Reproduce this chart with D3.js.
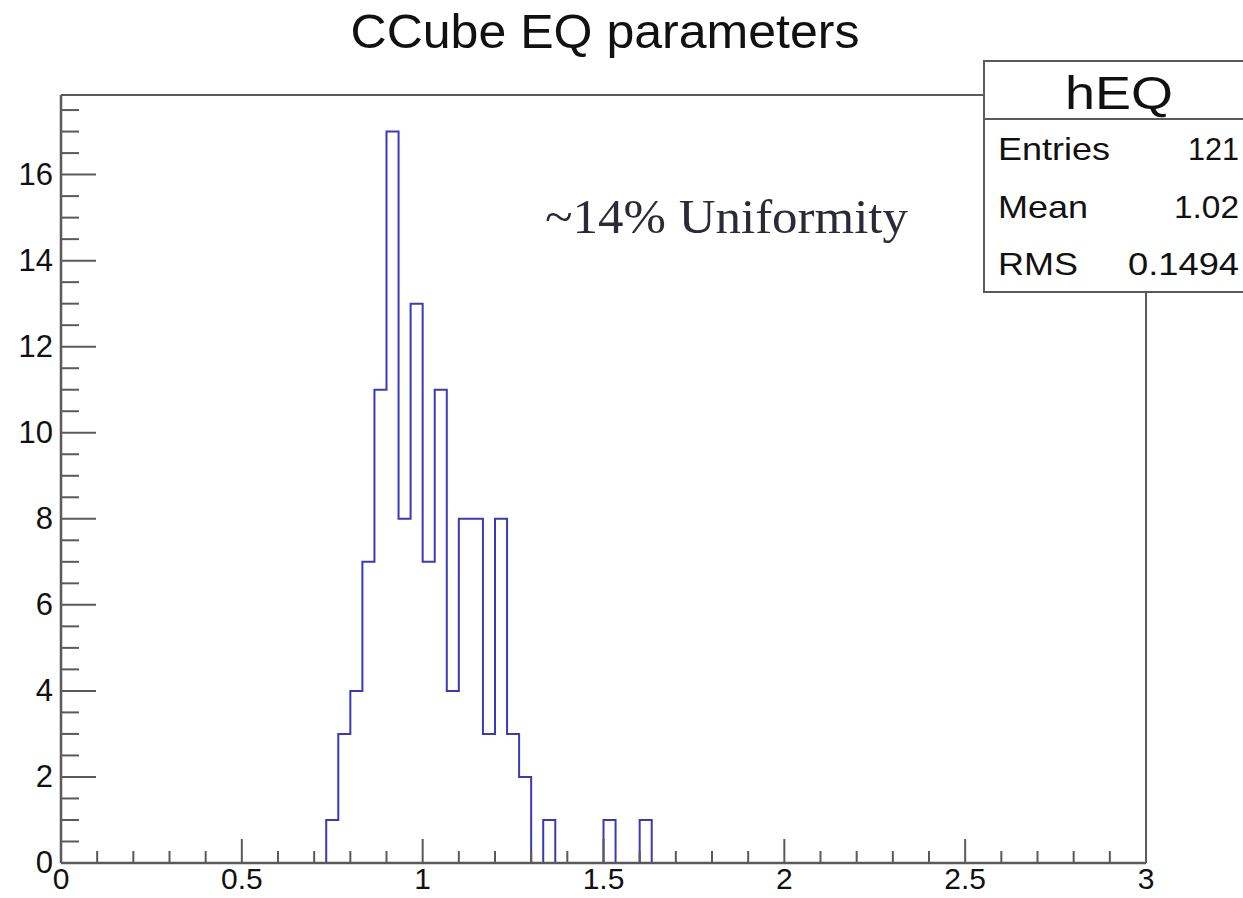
<!DOCTYPE html>
<html>
<head>
<meta charset="utf-8">
<script src="https://cdn.jsdelivr.net/npm/d3@7"></script>
<style>
  html, body { margin: 0; padding: 0; background: #ffffff; }
  svg { display: block; }
</style>
</head>
<body>
<svg id="chart" width="1243" height="898"></svg>
<script>
// Histogram hEQ: 90 bins over [0, 3]
const xLow = 0;
const xHigh = 3;
const binCounts = [
  0, 0, 0, 0, 0, 0, 0, 0, 0, 0,
  0, 0, 0, 0, 0, 0, 0, 0, 0, 0,
  0, 0, 1, 3, 4, 7, 11, 17, 8, 13,
  7, 11, 4, 8, 8, 3, 8, 3, 2, 0,
  1, 0, 0, 0, 0, 1, 0, 0, 1, 0,
  0, 0, 0, 0, 0, 0, 0, 0, 0, 0,
  0, 0, 0, 0, 0, 0, 0, 0, 0, 0,
  0, 0, 0, 0, 0, 0, 0, 0, 0, 0,
  0, 0, 0, 0, 0, 0, 0, 0, 0, 0
];
const xMajorTicks = [0, 0.5, 1, 1.5, 2, 2.5, 3];
const yMajorTicks = [0, 2, 4, 6, 8, 10, 12, 14, 16];
const statLabels = ["Entries", "Mean", "RMS"];
const statValues = ["121", "1.02", "0.1494"];
const titleText = "CCube EQ parameters";
const histName = "hEQ";
const noteText = "~14% Uniformity";

(function () {
  const svg = d3.select("#chart");
  const frameL = 61, frameR = 1146, frameT = 95, frameB = 863;

  const yMax = d3.max(binCounts) * 1.05;
  const x = d3.scaleLinear().domain([xLow, xHigh]).range([frameL, frameR]);
  const y = d3.scaleLinear().domain([0, yMax]).range([frameB, frameT]);

  const nBins = binCounts.length;
  const binW = (xHigh - xLow) / nBins;

  // Histogram outline as a step path
  const pts = [[xLow, 0]];
  binCounts.forEach((c, i) => {
    const lo = xLow + i * binW, hi = lo + binW;
    pts.push([lo, c]);
    pts.push([hi, c]);
  });
  pts.push([xHigh, 0]);
  const line = d3.line().x(d => x(d[0])).y(d => y(d[1]));
  svg.append("path")
    .attr("d", line(pts))
    .attr("fill", "none")
    .attr("stroke", "#3a3ab8")
    .attr("stroke-width", 2);

  const axisColor = "#5a5a5a";
  const labelFont = "'Liberation Sans', Arial, sans-serif";

  // Frame top and right edges
  svg.append("line").attr("x1", frameL).attr("x2", frameR).attr("y1", frameT).attr("y2", frameT)
    .attr("stroke", axisColor).attr("stroke-width", 2);
  svg.append("line").attr("x1", frameR).attr("x2", frameR).attr("y1", frameT).attr("y2", frameB)
    .attr("stroke", axisColor).attr("stroke-width", 2);

  // Y axis: minor ticks every 0.5, major every 2
  const yMinor = d3.range(0, yMax, 0.5).filter(v => v % 2 !== 0);
  svg.append("g").attr("transform", `translate(${frameL},0)`)
    .call(d3.axisLeft(y).offset(0).tickValues(yMinor).tickSize(-18).tickFormat(""))
    .call(g => g.select(".domain").remove());
  svg.append("g").attr("transform", `translate(${frameL},0)`)
    .call(d3.axisLeft(y).offset(0).tickValues(yMajorTicks).tickSize(-35).tickSizeOuter(0).tickPadding(8).tickFormat(d3.format("d")));

  // X axis: minor ticks every 0.1, major every 0.5
  const xMinor = d3.range(0, 31).map(i => i / 10).filter(v => Math.abs(v * 2 - Math.round(v * 2)) > 1e-6);
  svg.append("g").attr("transform", `translate(0,${frameB})`)
    .call(d3.axisBottom(x).offset(0).tickValues(xMinor).tickSize(-12).tickFormat(""))
    .call(g => g.select(".domain").remove());
  const xAxis = svg.append("g").attr("transform", `translate(0,${frameB})`)
    .call(d3.axisBottom(x).offset(0).tickValues(xMajorTicks).tickSize(-24).tickSizeOuter(0).tickPadding(5).tickFormat(d3.format("")));

  svg.selectAll(".tick line").attr("stroke", axisColor).attr("stroke-width", 2);
  svg.selectAll(".domain").attr("stroke", axisColor).attr("stroke-width", 2.5);
  svg.selectAll(".tick text")
    .attr("font-family", labelFont)
    .attr("font-size", 31)
    .attr("fill", "#111");
  xAxis.selectAll(".tick text").attr("font-size", 30);

  // Title
  svg.append("text")
    .attr("x", 605).attr("y", 48)
    .attr("text-anchor", "middle")
    .attr("font-family", labelFont)
    .attr("font-size", 48)
    .attr("textLength", 509)
    .attr("lengthAdjust", "spacingAndGlyphs")
    .attr("fill", "#111")
    .text(titleText);

  // Annotation
  svg.append("text")
    .attr("x", 545).attr("y", 233)
    .attr("font-family", "'Liberation Serif', 'Times New Roman', serif")
    .attr("font-size", 48)
    .attr("textLength", 363)
    .attr("lengthAdjust", "spacingAndGlyphs")
    .attr("fill", "#2b2b38")
    .text(noteText);

  // Statistics box
  const box = svg.append("g");
  box.append("rect")
    .attr("x", 984).attr("y", 61).attr("width", 300).attr("height", 231)
    .attr("fill", "#fff").attr("stroke", axisColor).attr("stroke-width", 2);
  box.append("line").attr("x1", 984).attr("x2", 1260).attr("y1", 119).attr("y2", 119)
    .attr("stroke", axisColor).attr("stroke-width", 2);
  box.append("text")
    .attr("x", 1119).attr("y", 109)
    .attr("text-anchor", "middle")
    .attr("font-family", labelFont)
    .attr("font-size", 47)
    .attr("textLength", 108)
    .attr("lengthAdjust", "spacingAndGlyphs")
    .attr("fill", "#111")
    .text(histName);

  const rowY = [160, 218, 275];
  const labelW = [112, 90, 80];
  const valueW = [51, 65, 111];
  statLabels.forEach((lab, i) => {
    box.append("text")
      .attr("x", 998).attr("y", rowY[i])
      .attr("font-family", labelFont)
      .attr("font-size", 32)
      .attr("textLength", labelW[i])
      .attr("lengthAdjust", "spacingAndGlyphs")
      .attr("fill", "#111")
      .text(lab);
    box.append("text")
      .attr("x", 1239).attr("y", rowY[i])
      .attr("text-anchor", "end")
      .attr("font-family", labelFont)
      .attr("font-size", 32)
      .attr("textLength", valueW[i])
      .attr("lengthAdjust", "spacingAndGlyphs")
      .attr("fill", "#111")
      .text(statValues[i]);
  });
})();
</script>
</body>
</html>
